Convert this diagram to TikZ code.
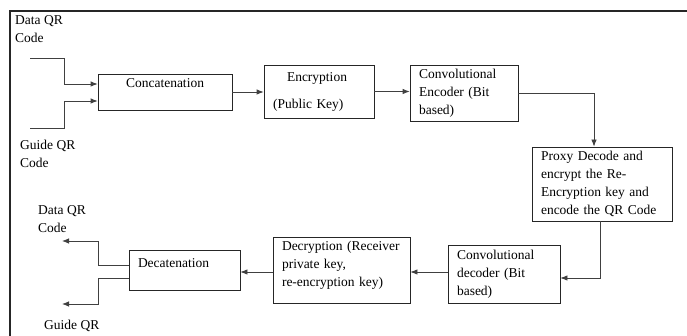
\documentclass[tikz,border=0pt]{standalone}
\usepackage{fontspec}
\setmainfont{Liberation Serif}
\usetikzlibrary{arrows.meta}

\begin{document}
\begin{tikzpicture}[x=1pt,y=-1pt,
  font=\fontsize{13.5}{18}\selectfont,
  box/.style={draw=black!85,line width=0.8pt,inner xsep=9pt,inner ysep=0pt,align=left},
  arr/.style={draw=black!75,line width=0.8pt,-{Latex[length=7pt,width=5.5pt]}},
  lbl/.style={anchor=north west,align=left,inner sep=0pt}]
\useasboundingbox (0,0) rectangle (687,336);
\draw[line width=2pt,black!85] (687,11) -- (10,11) -- (10,336);

% sender side
\node[box,minimum width=134pt,minimum height=36pt,text width=116pt,align=center,
  text height=9pt,text depth=17pt] (concat) at (165,92) {Concatenation};
\node[box,minimum width=110pt,minimum height=53pt,text width=92pt] (encrypt) at (319,91.5)
  {\hspace*{14pt}Encryption\\[9pt](Public Key)};
\node[box,minimum width=108pt,minimum height=56pt,text width=90pt] (encoder) at (464,93)
  {Convolutional\\Encoder (Bit\\based)};
\node[box,minimum width=140pt,minimum height=74pt,text width=122pt] (proxy) at (602,184)
  {Proxy Decode and\\encrypt the Re-\\Encryption key and\\encode the QR Code};

% receiver side
\node[box,minimum width=112pt,minimum height=58pt,text width=94pt] (decoder) at (504,274)
  {Convolutional\\decoder (Bit\\based)};
\node[box,minimum width=137pt,minimum height=66pt,text width=119pt,text depth=48pt] (decrypt) at (341.5,270)
  {Decryption (Receiver\\private key,\\re-encryption key)};
\node[box,minimum width=111pt,minimum height=40pt,text width=93pt,
  text height=9pt,text depth=13pt] (decat) at (184.5,270) {Decatenation};

% labels
\node[lbl] (dataIn) at (15,15) {Data QR\\Code};
\node[lbl] (guideIn) at (20,140) {Guide QR\\Code};
\node[lbl] (dataOut) at (38,205) {Data QR\\Code};
\node[lbl] (guideOut) at (44,320) {Guide QR};

\coordinate (dIn) at (30,58);
\coordinate (dBend) at (64,84);
\coordinate (gIn) at (30,128);
\coordinate (gBend) at (64,101);
\coordinate (dKnee) at (98,241);
\coordinate (dOut) at (62,241);
\coordinate (gKnee) at (98,304);
\coordinate (gOut) at (62,304);

\draw[arr] (dIn) -| (dBend) -- (dBend -| concat.west);
\draw[arr] (gIn) -| (gBend) -- (gBend -| concat.west);
\draw[arr] (concat.east) -- (concat.east -| encrypt.west);
\draw[arr] (encrypt.east) -- (encrypt.east -| encoder.west);
\draw[arr] (encoder.east) -| ([xshift=-8pt]proxy.north);
\draw[arr] ([xshift=-2pt]proxy.south) |- ([yshift=-4pt]decoder.east);
\draw[arr] ([yshift=2pt]decoder.west) -- ([yshift=2pt]decoder.west -| decrypt.east);
\draw[arr] ([yshift=-2pt]decrypt.west) -- ([yshift=-2pt]decrypt.west -| decat.east);
\draw[arr] ([yshift=5pt]decat.west) -| (dKnee) -- (dOut);
\draw[arr] ([yshift=-8pt]decat.west) -| (gKnee) -- (gOut);
\end{tikzpicture}
\end{document}
